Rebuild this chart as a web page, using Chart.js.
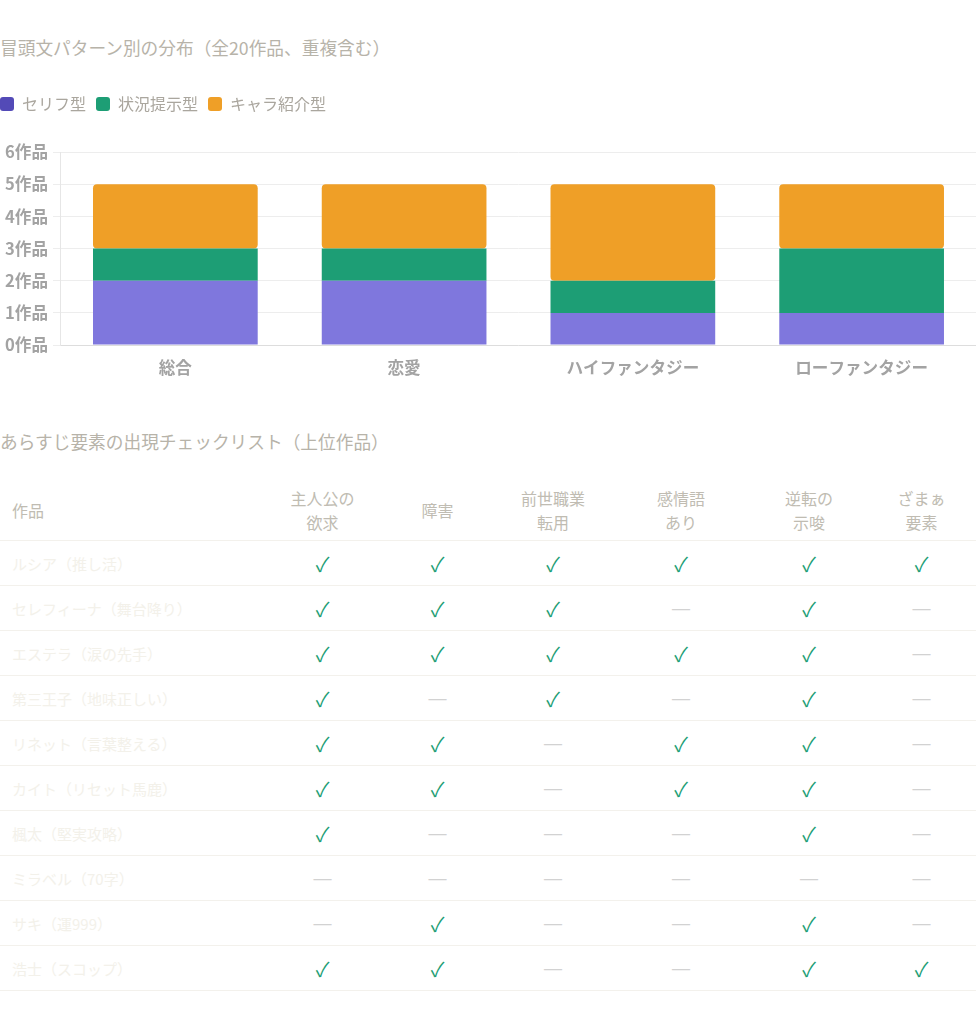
<!DOCTYPE html>
<html lang="ja">
<head>
<meta charset="utf-8">
<script src="https://cdn.jsdelivr.net/npm/chart.js@4.4.1/dist/chart.umd.min.js"></script>
<style>
  body { margin: 0; width: 976px; height: 1024px; background: #fff; font-family: "Noto Sans CJK JP", "Noto Sans", sans-serif; position: relative; overflow: hidden; }
  .ttl { position: absolute; left: 0; font-size: 17.7px; line-height: 22px; color: #b7b3a9; white-space: nowrap; }
  #wrap { position: absolute; left: 0; top: 86px; width: 976px; height: 297px; }
  #tbl { position: absolute; left: 0; top: 479px; width: 976px; border-collapse: collapse; table-layout: fixed; }
  #tbl th { font-weight: normal; font-size: 16px; line-height: 24px; color: #c0bcb2; height: 61px; padding: 0; border-bottom: 1px solid #f3f1ec; }
  #tbl th.name { text-align: left; padding-left: 12px; }
  #tbl td { height: 44px; padding: 0; border-bottom: 1px solid #f3f1ec; text-align: center; }
  #tbl td.name { text-align: left; padding-left: 12px; font-size: 15px; color: #f3f1ea; white-space: nowrap; }
  .ok { color: #1d9e75; font-size: 20px; }
  .no { color: #d2d2d2; font-family: "DejaVu Sans", sans-serif; font-size: 20px; }
</style>
</head>
<body>
<div class="ttl" style="top:36px">冒頭文パターン別の分布（全20作品、重複含む）</div>
<div id="wrap"><canvas id="chart"></canvas></div>
<div class="ttl" style="top:430px">あらすじ要素の出現チェックリスト（上位作品）</div>
<table id="tbl">
  <colgroup>
    <col style="width:265px"><col style="width:115px"><col style="width:115px"><col style="width:116px"><col style="width:140px"><col style="width:116px"><col style="width:109px">
  </colgroup>
  <thead><tr id="headRow"></tr></thead>
  <tbody id="bodyRows"></tbody>
</table>
<script>
// 棒グラフのデータ
const genres = ["総合", "恋愛", "ハイファンタジー", "ローファンタジー"];
const seriesNames = ["セリフ型", "状況提示型", "キャラ紹介型"];
const serifu = [2, 2, 1, 1];
const jokyo = [1, 1, 1, 2];
const chara = [2, 2, 3, 2];

// チェックリストのデータ
const checkCols = ["主人公の<br>欲求", "障害", "前世職業<br>転用", "感情語<br>あり", "逆転の<br>示唆", "ざまぁ<br>要素"];
const works = ["ルシア（推し活）", "セレフィーナ（舞台降り）", "エステラ（涙の先手）", "第三王子（地味正しい）", "リネット（言葉整える）", "カイト（リセット馬鹿）", "楓太（堅実攻略）", "ミラベル（70字）", "サキ（運999）", "浩士（スコップ）"];
const checks = [
  [1, 1, 1, 1, 1, 1],
  [1, 1, 1, 0, 1, 0],
  [1, 1, 1, 1, 1, 0],
  [1, 0, 1, 0, 1, 0],
  [1, 1, 0, 1, 1, 0],
  [1, 1, 0, 1, 1, 0],
  [1, 0, 0, 0, 1, 0],
  [0, 0, 0, 0, 0, 0],
  [0, 1, 0, 0, 1, 0],
  [1, 1, 0, 0, 1, 1]
];

const barColors = ["#7f77dd", "#1d9e75", "#ef9f27"];
const legendColors = ["#534ab7", "#1d9e75", "#ef9f27"];

// 凡例の下に余白を足し、左端に寄せる
const legendTweak = {
  id: "legendTweak",
  beforeInit(chart) {
    const fit = chart.legend.fit;
    chart.legend.fit = function () {
      fit.bind(chart.legend)();
      this.height += 30;
    };
  },
  afterLayout(chart) {
    chart.legend.left = -10;
  }
};

const tickFont = { family: "'Noto Sans CJK JP', sans-serif", size: 16.6, weight: "bold" };

new Chart(document.getElementById("chart"), {
  type: "bar",
  data: {
    labels: genres,
    datasets: [
      { label: seriesNames[0], data: serifu, backgroundColor: barColors[0] },
      { label: seriesNames[1], data: jokyo, backgroundColor: barColors[1] },
      { label: seriesNames[2], data: chara, backgroundColor: barColors[2], borderRadius: 4, borderSkipped: false }
    ]
  },
  options: {
    responsive: true,
    maintainAspectRatio: false,
    animation: false,
    plugins: {
      legend: {
        align: "start",
        labels: {
          boxWidth: 14,
          boxHeight: 14,
          useBorderRadius: true,
          borderRadius: 3,
          padding: 10,
          color: "#aaa69e",
          font: { family: "'Noto Sans CJK JP', sans-serif", size: 16 },
          generateLabels(chart) {
            return Chart.defaults.plugins.legend.labels.generateLabels(chart).map((l, i) => {
              l.fillStyle = legendColors[i];
              l.strokeStyle = legendColors[i];
              l.lineWidth = 0;
              return l;
            });
          }
        }
      },
      tooltip: { enabled: false }
    },
    scales: {
      x: {
        stacked: true,
        grid: { display: false },
        border: { color: "#dddddd" },
        ticks: { color: "#a3a3a3", font: tickFont, padding: 5 }
      },
      y: {
        stacked: true,
        min: 0,
        max: 6,
        grid: { color: "#ededed" },
        border: { color: "#e6e6e6" },
        ticks: { stepSize: 1, color: "#a3a3a3", font: tickFont, padding: 5, callback: v => v + "作品" }
      }
    }
  },
  plugins: [legendTweak]
});

// チェックリスト表を組み立てる
const headRow = document.getElementById("headRow");
headRow.innerHTML = '<th class="name">作品</th>' + checkCols.map(c => `<th>${c}</th>`).join("");
const bodyRows = document.getElementById("bodyRows");
works.forEach((w, i) => {
  const tr = document.createElement("tr");
  tr.innerHTML = `<td class="name">${w}</td>` + checks[i].map(v => v ? '<td><span class="ok">✓</span></td>' : '<td><span class="no">—</span></td>').join("");
  bodyRows.appendChild(tr);
});
</script>
</body>
</html>
